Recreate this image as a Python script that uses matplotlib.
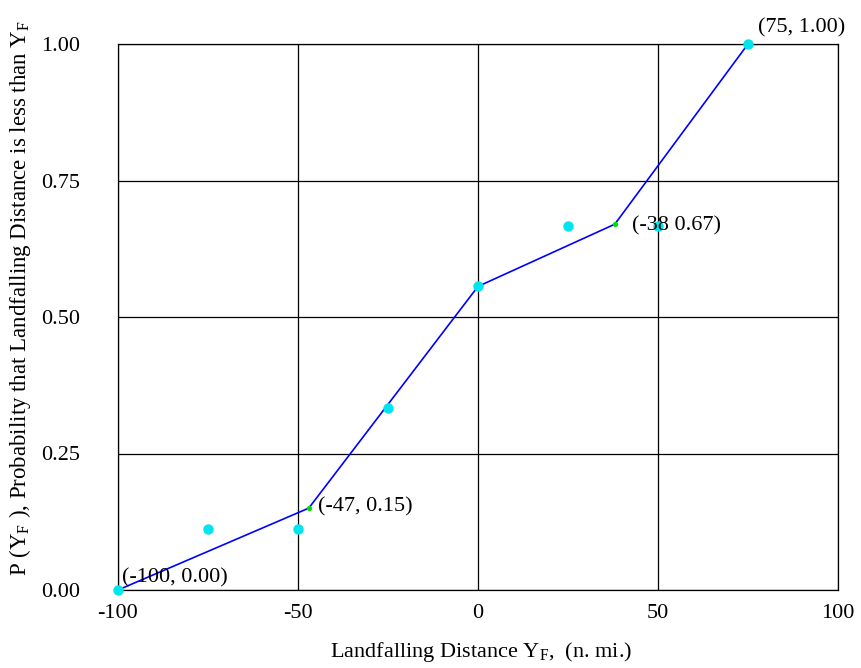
import matplotlib
matplotlib.use("Agg")
import matplotlib.pyplot as plt

plt.rcParams['font.family'] = ['Liberation Serif', 'DejaVu Serif']
plt.rcParams['mathtext.fontset'] = 'custom'
plt.rcParams['mathtext.rm'] = 'Liberation Serif'

# Observed cumulative probabilities
obs_x = [-100, -75, -50, -25, 0, 25, 50, 75]
obs_p = [0.0, 0.111, 0.111, 0.333, 0.556, 0.667, 0.667, 1.0]

# Piecewise-linear fit
fit_x = [-100, -47, 0, 38, 75]
fit_p = [0.0, 0.15, 0.556, 0.67, 1.0]

# Break points marked in green
knot_x = [-47, 38]
knot_p = [0.15, 0.67]

# Point labels: (x, y, text, dx_px, dy_px)
labels = [
    (-100, 0.0, "(-100, 0.00)", 4, 12),
    (-47, 0.15, "(-47, 0.15)", 9, 1),
    (38, 0.67, "(-38 0.67)", 17, -2),
    (75, 1.0, "(75, 1.00)", 10, 16),
]

x_ticks = [-100, -50, 0, 50, 100]
y_ticks = [0.0, 0.25, 0.5, 0.75, 1.0]
y_tick_labels = ["0.00", "0.25", "0.50", "0.75", "1.00"]

fig = plt.figure(figsize=(8.61, 6.68), dpi=100)
ax = fig.add_axes([118 / 861, 1 - 590 / 668, 720 / 861, 546 / 668])

ax.set_xlim(-100, 100)
ax.set_ylim(0, 1)
ax.set_xticks(x_ticks)
ax.set_xticklabels([str(v) for v in x_ticks])
ax.set_yticks(y_ticks)
ax.set_yticklabels(y_tick_labels)
ax.tick_params(axis='x', length=0, labelsize=16, pad=10)
ax.tick_params(axis='y', length=0, labelsize=16, pad=27)
ax.grid(True, color='black', linewidth=0.9)
ax.set_axisbelow(True)
for s in ax.spines.values():
    s.set_linewidth(0.9)

ax.plot(fit_x, fit_p, color='#0000ff', linewidth=1.2, zorder=3)
ax.plot(obs_x, obs_p, linestyle='none', marker='o', markersize=7.5,
        color='#00e5ee', markeredgewidth=0, zorder=4, clip_on=False)
ax.plot(knot_x, knot_p, linestyle='none', marker='o', markersize=3.8,
        color='#00dd00', markeredgewidth=0, zorder=5, clip_on=False)

for x, y, t, dx, dy in labels:
    ax.annotate(t, (x, y), xytext=(dx, dy), textcoords='offset pixels',
                ha='left', va='center', fontsize=16, zorder=6,
                annotation_clip=False)

fig.text(481 / 861, 1 - 652 / 668,
         r"Landfalling Distance Y$_\mathregular{F}$,  (n. mi.)",
         ha='center', va='center', fontsize=16)
fig.text(20 / 861, 1 - 298 / 668,
         r"P (Y$_\mathregular{F}$ ), Probability that Landfalling Distance is less than Y$_\mathregular{F}$",
         ha='center', va='center', rotation=90, fontsize=16.5)

fig.savefig("out.png", dpi=100)
